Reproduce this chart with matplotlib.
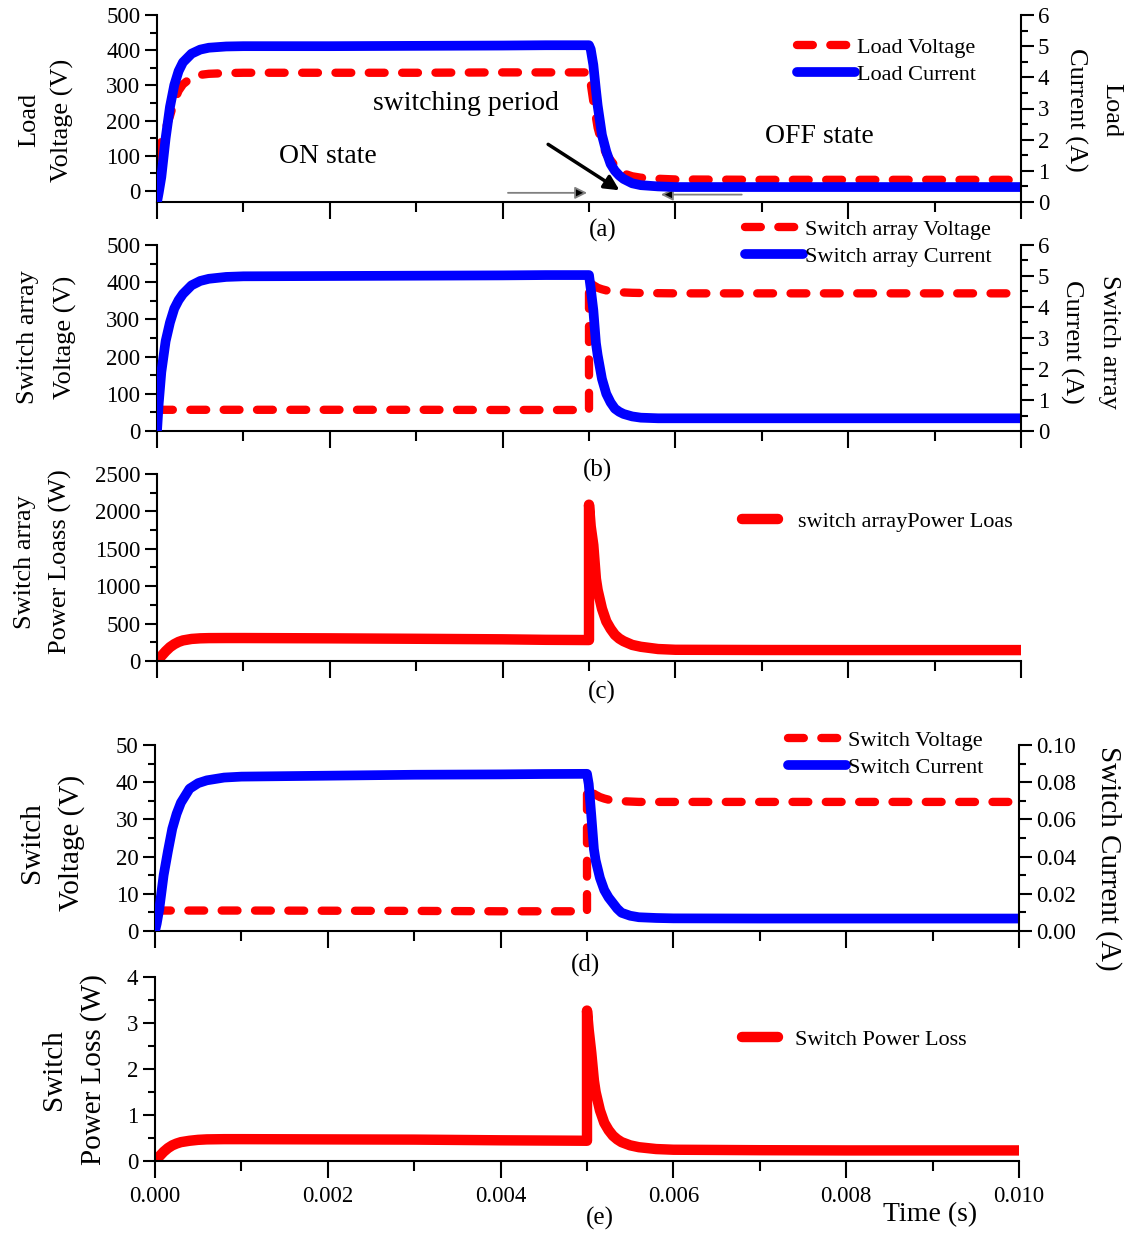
import matplotlib
matplotlib.use("Agg")
import matplotlib.pyplot as plt
from matplotlib.ticker import MultipleLocator, FormatStrFormatter
from matplotlib.patches import FancyArrowPatch

plt.rcParams['font.family'] = ['Liberation Serif', 'DejaVu Serif']

W, H = 1129, 1236
RED = '#ff0000'
BLUE = '#0000ff'

# Simulation time samples (s); 0.005 appears twice for the switching instant
time_s = [0, 0.00002, 0.00005, 0.0001, 0.00015, 0.0002, 0.00025, 0.0003,
          0.0004, 0.0005, 0.0006, 0.0008, 0.001, 0.002, 0.003, 0.004, 0.0045,
          0.005, 0.005, 0.00502, 0.00505, 0.00508, 0.0051, 0.00515, 0.0052,
          0.00525, 0.0053, 0.00535, 0.0054, 0.0055, 0.0056, 0.0058, 0.006,
          0.007, 0.008, 0.009, 0.010]

# (a) load
load_voltage = [0, 100, 140, 178, 213, 255, 285, 303, 323, 330, 333, 335, 336,
                336, 336, 337, 337, 337, 337, 305, 255, 210, 180, 135, 105,
                88, 72, 60, 50, 42, 38, 35, 33, 32, 32, 32, 32]
load_current = [0, 0.3, 0.8, 2.05, 3.05, 3.75, 4.2, 4.48, 4.76, 4.89, 4.95,
                4.99, 5.0, 5.0, 5.01, 5.02, 5.03, 5.03, 5.03, 4.9, 4.4, 3.6,
                3.1, 2.15, 1.62, 1.22, 1.0, 0.85, 0.74, 0.6, 0.54, 0.5, 0.48,
                0.48, 0.48, 0.48, 0.48]

# (b) switch array
array_voltage = [57, 57, 57, 57, 57, 57, 57, 57, 57, 57, 57, 57, 57, 57, 57,
                 56.5, 56.5, 56.5, 405, 398, 392, 388, 385, 381, 378, 376,
                 374.5, 373.5, 372.5, 371.5, 371, 370.5, 370, 370, 370, 370,
                 370]
array_current = [0, 0.9, 1.9, 2.9, 3.5, 3.95, 4.22, 4.42, 4.7, 4.84, 4.91,
                 4.97, 4.99, 5.0, 5.01, 5.02, 5.03, 5.03, 5.03, 4.6, 3.9,
                 2.84, 2.45, 1.68, 1.2, 0.92, 0.72, 0.62, 0.55, 0.47, 0.43,
                 0.41, 0.41, 0.41, 0.41, 0.41, 0.41]

# (c) switch array power loss
array_power = [0, 25, 65, 130, 185, 225, 255, 275, 295, 303, 306, 307, 307,
               303, 297, 290, 283, 280, 2090, 1800, 1550, 1100, 950, 700, 530,
               430, 350, 300, 265, 215, 190, 160, 150, 147, 146, 146, 146]

# (d) single switch
switch_voltage = [5.5, 5.5, 5.5, 5.5, 5.5, 5.5, 5.5, 5.5, 5.5, 5.5, 5.5, 5.5,
                  5.5, 5.45, 5.4, 5.3, 5.3, 5.3, 38.8, 38.0, 37.3, 36.9, 36.6,
                  36.0, 35.6, 35.3, 35.1, 35.0, 34.9, 34.8, 34.7, 34.7, 34.7,
                  34.7, 34.7, 34.7, 34.7]
switch_current = [0, 0.004, 0.012, 0.03, 0.043, 0.055, 0.063, 0.069, 0.0765,
                  0.0795, 0.081, 0.0825, 0.083, 0.0835, 0.084, 0.0842, 0.0844,
                  0.0845, 0.0845, 0.079, 0.062, 0.044, 0.038, 0.0285, 0.022,
                  0.018, 0.015, 0.012, 0.0098, 0.0082, 0.0074, 0.007, 0.0068,
                  0.0067, 0.0067, 0.0067, 0.0067]

# (e) single switch power loss
switch_power = [0, 0.04, 0.1, 0.2, 0.28, 0.34, 0.38, 0.41, 0.44, 0.46, 0.47,
                0.475, 0.475, 0.47, 0.465, 0.45, 0.445, 0.44, 3.27, 2.85,
                2.35, 1.75, 1.5, 1.1, 0.83, 0.67, 0.55, 0.47, 0.41, 0.34,
                0.3, 0.26, 0.245, 0.235, 0.23, 0.23, 0.23]

fig = plt.figure(figsize=(W / 100, H / 100), dpi=100)


def px_axes(left, top, right, bottom):
    return fig.add_axes([left / W, 1 - bottom / H, (right - left) / W,
                         (bottom - top) / H])


def ftext(x, y, s, **kw):
    return fig.text(x / W, 1 - y / H, s, **kw)


def style(ax, ymaj, ymin):
    ax.set_xlim(0, 0.010)
    ax.spines['top'].set_visible(False)
    ax.spines['right'].set_visible(False)
    for sp in ax.spines.values():
        sp.set_linewidth(1.5)
    ax.xaxis.set_major_locator(MultipleLocator(0.002))
    ax.xaxis.set_minor_locator(MultipleLocator(0.001))
    ax.yaxis.set_major_locator(MultipleLocator(ymaj))
    ax.yaxis.set_minor_locator(MultipleLocator(ymin))
    ax.tick_params(axis='y', which='major', direction='out', length=9,
                   width=1.5, labelsize=16.5, pad=3)
    ax.tick_params(axis='y', which='minor', direction='out', length=5,
                   width=1.5)
    ax.tick_params(axis='x', which='major', direction='out', length=12,
                   width=1.5, labelbottom=False)
    ax.tick_params(axis='x', which='minor', direction='out', length=7,
                   width=1.5)
    ax.patch.set_alpha(0)


def style_twin(ax2, ymaj, ymin):
    for k in ('top', 'left', 'bottom'):
        ax2.spines[k].set_visible(False)
    ax2.spines['right'].set_linewidth(1.5)
    ax2.yaxis.set_major_locator(MultipleLocator(ymaj))
    ax2.yaxis.set_minor_locator(MultipleLocator(ymin))
    ax2.tick_params(axis='y', which='major', direction='out', length=9,
                    width=1.5, labelsize=16.5, pad=3)
    ax2.tick_params(axis='y', which='minor', direction='out', length=5,
                    width=1.5)


dash_kw = dict(color=RED, lw=6, dashes=(1.9, 2.1), dash_capstyle='round',
               dash_joinstyle='round')
solid_kw = dict(color=BLUE, lw=7, solid_capstyle='round',
                solid_joinstyle='round')
power_kw = dict(color=RED, lw=7.5, solid_capstyle='round',
                solid_joinstyle='round')


def legend(ax, handles, x, y, hl=2.6, pad=0.1):
    return ax.legend(handles, [h.get_label() for h in handles],
                     loc='upper left', bbox_to_anchor=(x / W, 1 - y / H),
                     bbox_transform=fig.transFigure, frameon=False,
                     fontsize=16, handlelength=hl, handletextpad=pad,
                     labelspacing=0.3, borderpad=0, borderaxespad=0)


# ---------------- (a) load voltage / current ----------------
ax_a = px_axes(157, 15, 1021, 202)
style(ax_a, 100, 50)
ax_a.set_ylim(-31, 500)
la, = ax_a.plot(time_s, load_voltage, label='Load Voltage', **dash_kw)
ax_a2 = ax_a.twinx()
style_twin(ax_a2, 1, 0.5)
ax_a2.set_ylim(0, 6)
lb, = ax_a2.plot(time_s, load_current, label='Load Current', **solid_kw)
legend(ax_a2, [la, lb], 797, 37)

ax_a.text(0.00358, 248, 'switching period', fontsize=20, ha='center',
          va='center')
ax_a.text(0.00198, 97, 'ON state', fontsize=20, ha='center', va='center')
ax_a.text(0.00767, 154, 'OFF state', fontsize=20, ha='center', va='center')
ax_a.add_patch(FancyArrowPatch((0.0045, 137), (0.00538, -2),
                               arrowstyle='-|>', mutation_scale=22, lw=2.5,
                               color='black', clip_on=False, zorder=5))
ax_a.add_patch(FancyArrowPatch((0.00403, -5), (0.00501, -5),
                               arrowstyle='-|>', mutation_scale=18, lw=1.3,
                               edgecolor='0.5', facecolor='black',
                               clip_on=False, zorder=5))
ax_a.add_patch(FancyArrowPatch((0.0068, -10), (0.0058, -10),
                               arrowstyle='-|>', mutation_scale=18, lw=1.3,
                               edgecolor='0.5', facecolor='black',
                               clip_on=False, zorder=5))

# ---------------- (b) switch array voltage / current ----------------
ax_b = px_axes(157, 245, 1021, 431)
style(ax_b, 100, 50)
ax_b.set_ylim(0, 500)
lc, = ax_b.plot(time_s, array_voltage, label='Switch array Voltage',
                **dash_kw)
ax_b2 = ax_b.twinx()
style_twin(ax_b2, 1, 0.5)
ax_b2.set_ylim(0, 6)
ld, = ax_b2.plot(time_s, array_current, label='Switch array Current',
                 **solid_kw)
legend(ax_b2, [lc, ld], 745, 219)

# ---------------- (c) switch array power loss ----------------
ax_c = px_axes(157, 474, 1021, 661)
style(ax_c, 500, 250)
ax_c.set_ylim(0, 2500)
le, = ax_c.plot(time_s, array_power, label='switch arrayPower Loas',
                **power_kw)
legend(ax_c, [le], 742, 511, hl=1.6, pad=0.9)

# ---------------- (d) single switch voltage / current ----------------
ax_d = px_axes(155, 745, 1019, 931)
style(ax_d, 10, 5)
ax_d.set_ylim(0, 50)
lf, = ax_d.plot(time_s, switch_voltage, label='Switch Voltage', **dash_kw)
ax_d2 = ax_d.twinx()
style_twin(ax_d2, 0.02, 0.01)
ax_d2.set_ylim(0, 0.10)
ax_d2.yaxis.set_major_formatter(FormatStrFormatter('%.2f'))
lg, = ax_d2.plot(time_s, switch_current, label='Switch Current', **solid_kw)
legend(ax_d2, [lf, lg], 788, 730)

# ---------------- (e) single switch power loss ----------------
ax_e = px_axes(155, 977, 1019, 1161)
style(ax_e, 1, 0.5)
ax_e.set_ylim(0, 4)
lh, = ax_e.plot(time_s, switch_power, label='Switch Power Loss', **power_kw)
legend(ax_e, [lh], 742, 1029, hl=1.6, pad=0.8)
ax_e.tick_params(axis='x', labelbottom=True, labelsize=16.5, pad=6)
ax_e.xaxis.set_major_formatter(FormatStrFormatter('%.3f'))

# ---------------- axis titles and panel letters ----------------
lab = dict(ha='center', va='center', multialignment='center')
ftext(46, 120, 'Load\nVoltage (V)', rotation=90, fontsize=19,
      linespacing=1.6, **lab)
ftext(1093, 110, 'Load\nCurrent (A)', rotation=270, fontsize=19,
      linespacing=1.75, **lab)
ftext(47, 337, 'Switch array\nVoltage (V)', rotation=90, fontsize=19,
      linespacing=1.8, **lab)
ftext(1090, 342, 'Switch array\nCurrent (A)', rotation=270, fontsize=19,
      linespacing=1.9, **lab)
ftext(43, 562, 'Switch array\nPower Loass (W)', rotation=90, fontsize=19,
      linespacing=1.75, **lab)
ftext(52, 843, 'Switch\nVoltage (V)', rotation=90, fontsize=21,
      linespacing=1.6, **lab)
ftext(1108, 858, 'Switch Current (A)', rotation=270, fontsize=21, **lab)
ftext(74, 1070, 'Switch\nPower Loss (W)', rotation=90, fontsize=21,
      linespacing=1.6, **lab)

ftext(603, 230, '(a)', fontsize=18, ha='center', va='center')
ftext(598, 470, '(b)', fontsize=18, ha='center', va='center')
ftext(602, 692, '(c)', fontsize=18, ha='center', va='center')
ftext(585, 965, '(d)', fontsize=18, ha='center', va='center')
ftext(600, 1218, '(e)', fontsize=18, ha='center', va='center')
ftext(930, 1215, 'Time (s)', fontsize=20, ha='center', va='center')

fig.savefig('out.png', dpi=100)
